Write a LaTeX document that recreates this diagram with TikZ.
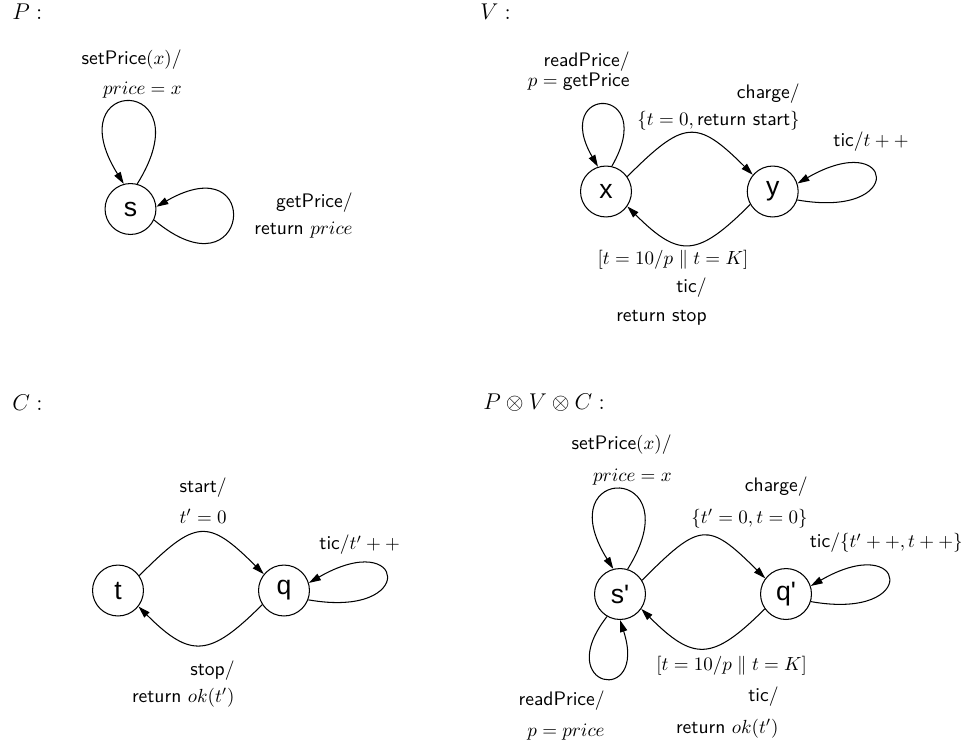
\documentclass[tikz,border=0pt]{standalone}
\usepackage{fontspec}
\newfontfamily\statefont{Liberation Sans}
\usepackage{tikz}
\usetikzlibrary{arrows.meta}
\tikzstyle{arrow} = [-{Triangle[length=6.3pt,width=3.8pt]}, line width=0.55pt]
\tikzstyle{statenode} = [circle, draw, line width=0.55pt, minimum size=26.8pt, inner sep=0pt, font=\statefont\fontsize{14}{16}\selectfont]
\tikzstyle{lbl} = [align=right, inner sep=0pt, anchor=east]
\tikzstyle{single} = [inner sep=0pt]
\tikzstyle{header} = [anchor=west, inner sep=0pt, font=\fontsize{12.5}{15}\selectfont]

\begin{document}
\begin{tikzpicture}[x=0.0185cm, y=0.0185cm, font=\fontsize{10.3}{12.4}\selectfont]
    \useasboundingbox (0,0) rectangle (973,-744);

    % P
    \node[header] (hp) at (12,-12) {$P:$};
    \node[statenode] (s) at (130.5,-209) {s};
    \draw[arrow] (s.75) to[out=58, in=122, distance=68pt] (s.105);
    \draw[arrow] (s.-25) to[out=-40, in=30, distance=66pt] (s.5);
    \node[lbl] (lsetp) at (182,-74) {\textsf{setPrice}$(x)$\textsf{/}\\[3.6pt] $price=x$};
    \node[lbl] (lgetp) at (353,-215.5) {\textsf{getPrice/}\\[1.8pt] \textsf{return} $price$};

    % V
    \node[header] (hv) at (480,-12) {$V:$};
    \node[statenode] (x) at (606,-191.5) {x};
    \node[statenode] (y) at (772.7,-191.5) {y};
    \draw[arrow] (x.77) to[out=60, in=120, distance=50pt] (x.108);
    \draw[arrow] (x.35) to[out=45, in=135, distance=42pt] (y.140);
    \draw[arrow] (y.210) to[out=-135, in=-45, distance=39pt] (x.-35);
    \draw[arrow] (y.-19) to[out=-10, in=30, distance=59pt] (y.18);
    \node[lbl] (lread) at (630,-71.5) {\textsf{readPrice/}\\[-1.8pt] $p=\textsf{getPrice}$};
    \node[lbl] (lcharge) at (800,-107) {\textsf{charge/}\\[1.5pt] $\{t=0,\textsf{return start}\}$};
    \node[single] (ltic) at (871,-142) {\textsf{tic/}$t++$};
    \node[single] (lguard) at (673,-260) {$[t=10/p\parallel t=K]$};
    \node[lbl] (lstop) at (707,-301.5) {\textsf{tic/}\\[2.6pt] \textsf{return stop}};

    % C
    \node[header] (hc) at (12,-403) {$C:$};
    \node[statenode] (t) at (118,-590.5) {t};
    \node[statenode] (q) at (284,-590.5) {q};
    \draw[arrow] (t.35) to[out=45, in=135, distance=42pt] (q.141);
    \draw[arrow] (q.213) to[out=-135, in=-45, distance=39pt] (t.-38);
    \draw[arrow] (q.-21) to[out=-10, in=30, distance=59pt] (q.17);
    \node[lbl] (lstart) at (227,-500.5) {\textsf{start/}\\[4pt] $t'=0$};
    \node[single] (lticc) at (359.7,-545) {\textsf{tic/}$t'++$};
    \node[lbl] (lstopc) at (235,-684) {\textsf{stop/}\\[1.8pt] \textsf{return} $ok(t')$};

    % P x V x C
    \node[header] (hpvc) at (483,-403) {$P\otimes V\otimes C:$};
    \node[statenode] (sp) at (620,-594) {s'};
    \node[statenode] (qp) at (786,-594) {q'};
    \draw[arrow] (sp.73) to[out=58, in=122, distance=66pt] (sp.105);
    \draw[arrow] (sp.-120) to[out=-128, in=-72, distance=48pt] (sp.-90);
    \draw[arrow] (sp.32) to[out=45, in=135, distance=43pt] (qp.143);
    \draw[arrow] (qp.215) to[out=-135, in=-45, distance=39pt] (sp.-35);
    \draw[arrow] (qp.-17) to[out=-10, in=30, distance=59pt] (qp.18);
    \node[lbl] (lsetp2) at (672,-460) {\textsf{setPrice}$(x)$\textsf{/}\\[4pt] $price=x$};
    \node[lbl] (lcharge2) at (808,-502.5) {\textsf{charge/}\\[4pt] $\{t'=0,t=0\}$};
    \node[single, anchor=east] (ltic2) at (963,-543) {\textsf{tic/}$\{t'++,t++\}$};
    \node[single] (lguard2) at (731.7,-666) {$[t=10/p\parallel t=K]$};
    \node[lbl] (lret2) at (779,-712.5) {\textsf{tic/}\\[4.5pt] \textsf{return} $ok(t')$};
    \node[lbl] (lread2) at (605,-715.5) {\textsf{readPrice/}\\[3.6pt] $p=price$};
\end{tikzpicture}
\end{document}
